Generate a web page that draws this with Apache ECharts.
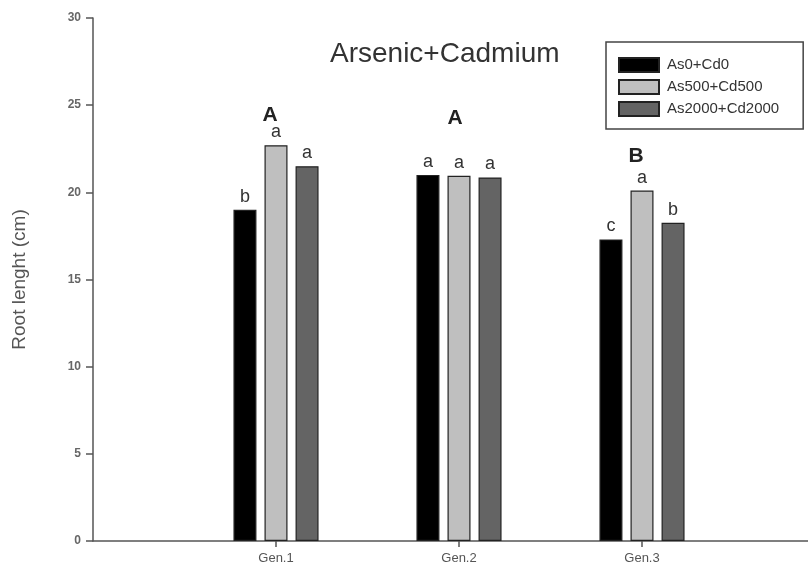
<!DOCTYPE html>
<html>
<head>
<meta charset="utf-8">
<script src="https://cdn.jsdelivr.net/npm/echarts@6/dist/echarts.min.js"></script>
<style>
  html, body { margin: 0; padding: 0; background: #fff; }
  #chart { width: 808px; height: 578px; }
</style>
</head>
<body>
<div id="chart"></div>
<script>
// Root length per generation under combined As + Cd treatments
const categories = ['Gen.1', 'Gen.2', 'Gen.3'];
const seriesNames = ['As0+Cd0', 'As500+Cd500', 'As2000+Cd2000'];
const control = [19.0, 21.0, 17.3];
const dose500 = [22.7, 20.95, 20.1];
const dose2000 = [21.5, 20.85, 18.25];
// significance letters within each generation
const controlLetters = ['b', 'a', 'c'];
const dose500Letters = ['a', 'a', 'a'];
const dose2000Letters = ['a', 'a', 'b'];
// significance letters between generations
const groupLetters = ['A', 'A', 'B'];
const yTicks = [0, 5, 10, 15, 20, 25, 30];

// layout: pixel offsets of the generation letters above the tallest bar
const groupLetterLift = [30, 57, 34];
const groupLetterShift = [-6, -4, -6];

// pad the category axis so the ticks sit at the middle three slots
const axisCats = [''].concat(categories, ['']);
const pad = arr => [null].concat(arr, [null]);

const fillColors = ['#000000', '#bfbfbf', '#646464'];
const font = '"Liberation Sans", Arial, sans-serif';

function barSeries(i, values, letters) {
  return {
    name: seriesNames[i],
    type: 'bar',
    data: pad(values),
    barWidth: 23,
    barGap: '35%',
    itemStyle: { color: fillColors[i], borderColor: '#222', borderWidth: 1.2 },
    label: {
      show: true,
      position: 'top',
      distance: 4,
      fontFamily: font,
      fontSize: 18,
      color: '#333',
      formatter: p => letters[p.dataIndex - 1] || ''
    }
  };
}

const s500 = barSeries(1, dose500, dose500Letters);
s500.markPoint = {
  symbol: 'circle',
  symbolSize: 0,
  silent: true,
  data: categories.map((c, k) => ({
    coord: [k + 1, Math.max(control[k], dose500[k], dose2000[k])],
    label: {
      show: true,
      formatter: groupLetters[k],
      offset: [groupLetterShift[k], -groupLetterLift[k]],
      fontFamily: font,
      fontWeight: 'bold',
      fontSize: 21,
      color: '#222'
    }
  }))
};

const chart = echarts.init(document.getElementById('chart'));
chart.setOption({
  animation: false,
  backgroundColor: '#ffffff',
  title: {
    text: 'Arsenic+Cadmium',
    left: 325,
    top: 35,
    textStyle: { fontFamily: font, fontSize: 28, fontWeight: 'normal', color: '#333' }
  },
  legend: {
    orient: 'vertical',
    left: 606,
    top: 42,
    padding: [15, 24, 12, 12],
    itemGap: 6,
    itemWidth: 40,
    itemHeight: 14,
    icon: 'rect',
    borderColor: '#444',
    borderWidth: 1.5,
    borderRadius: 0,
    selectedMode: false,
    textStyle: { fontFamily: font, fontSize: 15, color: '#333', padding: [0, 0, 0, 3] },
    data: seriesNames
  },
  grid: {
    left: 93, top: 18, width: 732, bottom: 37,
    containLabel: false,
    outerBoundsMode: 'none'
  },
  xAxis: {
    type: 'category',
    data: axisCats,
    boundaryGap: false,
    axisLine: { lineStyle: { color: '#555', width: 1.5 } },
    axisTick: {
      length: 6,
      lineStyle: { color: '#555', width: 1.5 },
      interval: (idx, val) => val !== ''
    },
    axisLabel: {
      interval: 0,
      margin: 11,
      fontFamily: font,
      fontSize: 13,
      color: '#555'
    }
  },
  yAxis: {
    type: 'value',
    min: yTicks[0],
    max: yTicks[yTicks.length - 1],
    interval: yTicks[1] - yTicks[0],
    name: 'Root lenght (cm)',
    nameLocation: 'middle',
    nameGap: 64,
    nameTextStyle: { fontFamily: font, fontSize: 19, color: '#555' },
    axisLine: { show: true, lineStyle: { color: '#555', width: 1.5 } },
    axisTick: { show: true, length: 7, lineStyle: { color: '#555', width: 1.5 } },
    splitLine: { show: false },
    axisLabel: { fontFamily: font, fontSize: 12, fontWeight: 'bold', color: '#666', margin: 12 }
  },
  series: [
    barSeries(0, control, controlLetters),
    s500,
    barSeries(2, dose2000, dose2000Letters)
  ]
});
</script>
</body>
</html>
